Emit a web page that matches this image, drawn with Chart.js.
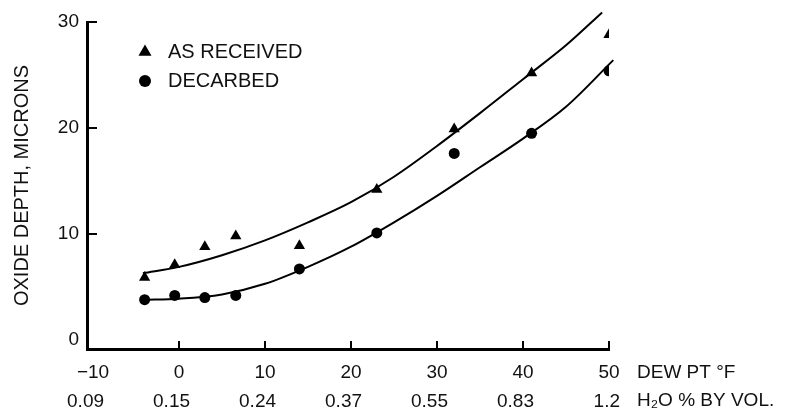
<!DOCTYPE html>
<html>
<head>
<meta charset="utf-8">
<script src="https://cdn.jsdelivr.net/npm/chart.js@4"></script>
<style>
  html, body { margin: 0; padding: 0; background: #fff; }
</style>
</head>
<body>
<canvas id="myChart" width="793" height="414"></canvas>
<script>
// axis ticks
const dewTicks = [-10, 0, 10, 20, 30, 40, 50];
const dewLabels = ['\u221210', '0', '10', '20', '30', '40', '50'];
const waterLabels = ['0.09', '0.15', '0.24', '0.37', '0.55', '0.83', '1.2'];
const depthTicks = [0, 10, 20, 30];

// measured points (dew point °F -> oxide depth, microns)
const sampleDew = [-4, -0.5, 3, 6.6, 14, 23, 32, 41, 50];
const asReceived = [5.9, 7.1, 8.8, 9.8, 8.9, 14.2, 19.9, 25.2, 28.8];
const decarbed = [3.8, 4.2, 4.0, 4.2, 6.7, 10.1, 17.6, 19.5, 25.4];

// hand drawn fit curves
const upperCurveX = [-4.2, 0, 5, 10, 15, 20, 25, 30, 35, 40, 45, 49.2];
const upperCurveY = [6.3, 6.9, 8.0, 9.4, 11.1, 13.0, 15.4, 18.3, 21.4, 24.6, 27.8, 30.9];
const lowerCurveX = [-4.2, 0, 5, 10, 15, 20, 25, 30, 35, 40, 45, 50.5];
const lowerCurveY = [3.8, 3.9, 4.3, 5.3, 6.9, 8.8, 11.1, 13.6, 16.3, 19.0, 22.0, 26.4];

const pts = (xs, ys) => xs.map((x, i) => ({ x: x, y: ys[i] }));
const ink = '#111';
const font = 'Liberation Sans, Arial, sans-serif';

const extras = {
  id: 'extras',
  afterDraw(chart) {
    const ctx = chart.ctx;
    const xs = chart.scales.x, ys = chart.scales.y;
    const area = chart.chartArea;
    ctx.save();
    ctx.strokeStyle = '#000';
    ctx.lineWidth = 2;
    // inward tick marks
    dewTicks.forEach(v => {
      if (v <= xs.min + 1) return;
      const px = xs.getPixelForValue(v);
      ctx.beginPath();
      ctx.moveTo(px, area.bottom);
      ctx.lineTo(px, area.bottom - 8);
      ctx.stroke();
    });
    depthTicks.forEach(v => {
      if (v === 0) return;
      const py = ys.getPixelForValue(v);
      ctx.beginPath();
      ctx.moveTo(area.left, py);
      ctx.lineTo(area.left + 10, py);
      ctx.stroke();
    });
    // axis names beside the last tick labels
    ctx.fillStyle = ink;
    ctx.font = '19px ' + font;
    ctx.textAlign = 'left';
    ctx.textBaseline = 'middle';
    ctx.fillText('DEW PT \u00B0F', 637, 373);
    ctx.fillText('H\u2082O % BY VOL.', 637, 401);
    // legend
    const lx = 145;
    const rows = [[52, 'triangle', 7.5, 'AS RECEIVED'], [81, 'circle', 6, 'DECARBED']];
    rows.forEach(r => {
      ctx.fillStyle = '#000';
      ctx.beginPath();
      if (r[1] === 'triangle') {
        const s = r[2];
        ctx.moveTo(lx, r[0] - s);
        ctx.lineTo(lx + s * 0.87, r[0] + s * 0.5);
        ctx.lineTo(lx - s * 0.87, r[0] + s * 0.5);
        ctx.closePath();
      } else {
        ctx.arc(lx, r[0], r[2], 0, Math.PI * 2);
      }
      ctx.fill();
      ctx.fillStyle = ink;
      ctx.font = '20px ' + font;
      ctx.fillText(r[3], 168, r[0]);
    });
    ctx.restore();
  }
};

const ctx = document.getElementById('myChart').getContext('2d');
const myChart = new Chart(ctx, {
  type: 'scatter',
  data: {
    datasets: [
      {
        type: 'line',
        label: 'fit as received',
        data: pts(upperCurveX, upperCurveY),
        borderColor: '#000',
        borderWidth: 2,
        pointRadius: 0,
        cubicInterpolationMode: 'monotone',
        fill: false,
        clip: false
      },
      {
        type: 'line',
        label: 'fit decarbed',
        data: pts(lowerCurveX, lowerCurveY),
        borderColor: '#000',
        borderWidth: 2,
        pointRadius: 0,
        cubicInterpolationMode: 'monotone',
        fill: false,
        clip: false
      },
      {
        label: 'AS RECEIVED',
        data: pts(sampleDew, asReceived),
        pointStyle: 'triangle',
        pointRadius: 6.5,
        backgroundColor: '#000',
        borderColor: '#000',
        borderWidth: 0
      },
      {
        label: 'DECARBED',
        data: pts(sampleDew, decarbed),
        pointStyle: 'circle',
        pointRadius: 5.5,
        backgroundColor: '#000',
        borderColor: '#000',
        borderWidth: 0
      }
    ]
  },
  options: {
    responsive: false,
    animation: false,
    devicePixelRatio: 1,
    layout: { padding: { top: 22, right: 184, left: 0, bottom: 0 } },
    plugins: {
      legend: { display: false },
      tooltip: { enabled: false }
    },
    scales: {
      x: {
        type: 'linear',
        position: 'bottom',
        min: -10.7,
        max: 50,
        afterBuildTicks: s => { s.ticks = dewTicks.map(v => ({ value: v })); },
        afterFit: s => { s.height = 38; },
        ticks: {
          callback: (v, i) => dewLabels[i],
          autoSkip: false,
          maxRotation: 0,
          padding: 12,
          color: ink,
          font: { family: font, size: 19 }
        },
        grid: { display: false, drawTicks: false },
        border: { display: true, width: 3, color: '#000' }
      },
      x2: {
        type: 'linear',
        position: 'bottom',
        min: -10.7,
        max: 50,
        afterBuildTicks: s => { s.ticks = dewTicks.map(v => ({ value: v })); },
        afterFit: s => { s.height = 27; },
        ticks: {
          callback: (v, i) => waterLabels[i],
          autoSkip: false,
          maxRotation: 0,
          align: 'end',
          labelOffset: 11,
          padding: 3,
          color: ink,
          font: { family: font, size: 19 }
        },
        grid: { display: false, drawTicks: false },
        border: { display: false }
      },
      y: {
        min: -0.85,
        max: 30,
        afterBuildTicks: s => { s.ticks = depthTicks.map(v => ({ value: v })); },
        afterFit: s => { s.width = 87; },
        ticks: {
          padding: 8,
          color: ink,
          font: { family: font, size: 19 }
        },
        grid: { display: false, drawTicks: false },
        border: { display: true, width: 3, color: '#000' },
        title: {
          display: true,
          text: 'OXIDE DEPTH, MICRONS',
          color: ink,
          font: { family: font, size: 20 },
          padding: { top: 10, bottom: 0 }
        }
      }
    }
  },
  plugins: [extras]
});
</script>
</body>
</html>
